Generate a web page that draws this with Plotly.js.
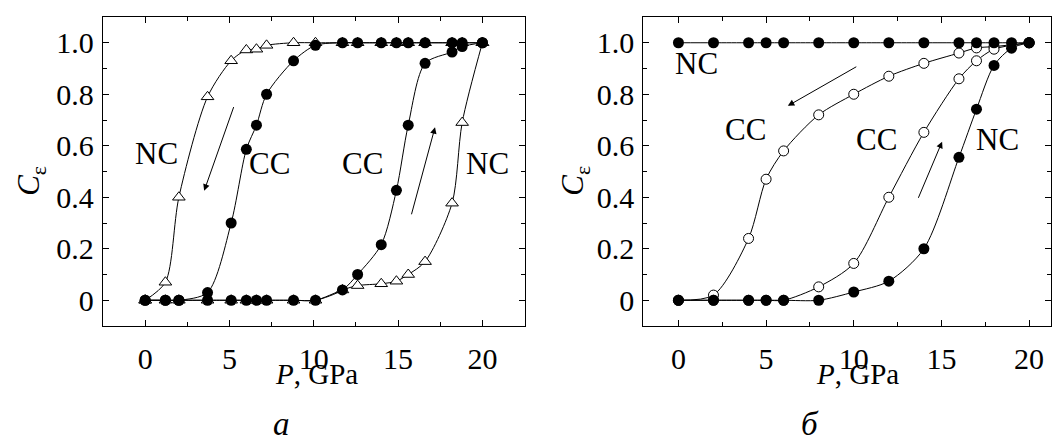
<!DOCTYPE html>
<html>
<head>
<meta charset="utf-8">
<script src="https://cdn.plot.ly/plotly-3.0.1.min.js"></script>
<style>
html, body { margin: 0; padding: 0; background: #fff; overflow: hidden; }
#chart { width: 1057px; height: 439px; }
</style>
</head>
<body>
<div id="chart"></div>
<script>
// ---------- Panel а ----------
const pressureA = [0, 1.2, 2.0, 3.7, 5.1, 6.0, 6.6, 7.2, 8.8, 10.1, 11.7, 12.6, 14.0, 14.9, 15.6, 16.6, 18.2, 18.8, 20];
const ncCompressionA   = [0, 0, 0, 0, 0, 0, 0, 0, 0, 0, 0.04, 0.057, 0.064, 0.074, 0.10, 0.15, 0.377, 0.69, 1.0];
const ncDecompressionA = [0, 0.07, 0.40, 0.79, 0.93, 0.972, 0.975, 0.99, 1.0, 1, 1, 1, 1, 1, 1, 1, 1, 1, 1];
const ccCompressionA   = [0, 0, 0, 0, 0, 0, 0, 0, 0, 0, 0.04, 0.10, 0.216, 0.427, 0.68, 0.92, 0.964, 0.985, 1.0];
const ccDecompressionA = [0, 0, 0, 0.03, 0.30, 0.586, 0.68, 0.80, 0.93, 0.99, 1, 1, 1, 1, 1, 1, 1, 1, 1];

// ---------- Panel б ----------
const pressureB = [0, 2, 4, 5, 6, 8, 10, 12, 14, 16, 17, 18, 19, 20];
const ncDecompressionB = [1, 1, 1, 1, 1, 1, 1, 1, 1, 1, 1, 1, 1, 1];
const ccDecompressionB = [0, 0.02, 0.24, 0.47, 0.58, 0.72, 0.80, 0.87, 0.92, 0.96, 0.98, 0.985, null, 1.0];
const ccCompressionB   = [0, 0, 0, 0, 0, 0.052, 0.143, 0.40, 0.652, 0.86, 0.93, 0.975, null, 1.0];
const ncCompressionB   = [0, 0, 0, 0, 0, 0, 0.032, 0.074, 0.20, 0.555, 0.742, 0.912, 0.979, 1.0];

// ---------- Ticks & labels ----------
const xTickVals = [0, 5, 10, 15, 20];
const xTickText = ['0', '5', '10', '15', '20'];
const xMinorVals = [-2.5, 2.5, 7.5, 12.5, 17.5, 22.5];
const yTickVals = [0, 0.2, 0.4, 0.6, 0.8, 1.0];
const yTickText = ['0', '0.2', '0.4', '0.6', '0.8', '1.0'];
const yMinorVals = [-0.1, 0.1, 0.3, 0.5, 0.7, 0.9, 1.1];

const xTitle = '<i>P</i>, GPa';
const yTitle = '<i>C</i><sub>ε</sub>';
const panelLabels = ['<i>а</i>', '<i>б</i>'];
const curveLabelsA = [
  {t: 'NC', x: 0.7, y: 0.57}, {t: 'CC', x: 7.4, y: 0.53},
  {t: 'CC', x: 12.9, y: 0.53}, {t: 'NC', x: 20.3, y: 0.53}
];
const curveLabelsB = [
  {t: 'NC', x: 1.05, y: 0.92}, {t: 'CC', x: 3.85, y: 0.665},
  {t: 'CC', x: 11.3, y: 0.625}, {t: 'NC', x: 18.2, y: 0.625}
];
// arrows: tail -> head (data units)
const arrowsA = [
  {tx: 5.28, ty: 0.756, hx: 3.5, hy: 0.425},
  {tx: 15.77, ty: 0.328, hx: 17.19, hy: 0.672}
];
const arrowsB = [
  {tx: 10.23, ty: 0.91, hx: 6.24, hy: 0.755},
  {tx: 13.65, ty: 0.392, hx: 15.04, hy: 0.616}
];

const FONT = '"Liberation Serif", "Times New Roman", serif';

function tri(x, y, xa, ya) {
  return {x: x, y: y, xaxis: xa, yaxis: ya, type: 'scatter', mode: 'lines+markers',
    line: {color: 'black', width: 1, shape: 'spline', smoothing: 0.8},
    marker: {symbol: 'triangle-up', size: 11, color: 'white', line: {color: 'black', width: 1}},
    connectgaps: true, hoverinfo: 'skip'};
}
function dot(x, y, xa, ya, size) {
  return {x: x, y: y, xaxis: xa, yaxis: ya, type: 'scatter', mode: 'lines+markers',
    line: {color: 'black', width: 1, shape: 'spline', smoothing: 0.8},
    marker: {symbol: 'circle', size: size, color: 'black', line: {color: 'black', width: 0}},
    connectgaps: true, hoverinfo: 'skip'};
}
function ring(x, y, xa, ya) {
  return {x: x, y: y, xaxis: xa, yaxis: ya, type: 'scatter', mode: 'lines+markers',
    line: {color: 'black', width: 1, shape: 'spline', smoothing: 0.8},
    marker: {symbol: 'circle', size: 10, color: 'white', line: {color: 'black', width: 1}},
    connectgaps: true, hoverinfo: 'skip'};
}

const data = [
  tri(pressureA, ncCompressionA, 'x', 'y'),
  tri(pressureA, ncDecompressionA, 'x', 'y'),
  dot(pressureA, ccCompressionA, 'x', 'y', 11),
  dot(pressureA, ccDecompressionA, 'x', 'y', 11),
  ring(pressureB, ccDecompressionB, 'x2', 'y2'),
  ring(pressureB, ccCompressionB, 'x2', 'y2'),
  dot(pressureB, ncCompressionB, 'x2', 'y2', 11),
  dot(pressureB, ncDecompressionB, 'x2', 'y2', 11)
];

function xAxis(domain, range, anchor) {
  return {
    domain: domain, range: range, anchor: anchor,
    tickmode: 'array', tickvals: xTickVals, ticktext: xTickText,
    ticks: 'inside', ticklen: 6, tickwidth: 1, tickcolor: 'black',
    minor: {tickmode: 'array', tickvals: xMinorVals, ticks: 'inside', ticklen: 4, tickwidth: 1, tickcolor: 'black'},
    showline: true, linecolor: 'black', linewidth: 1.2, mirror: 'ticks',
    showgrid: false, zeroline: false,
    tickfont: {family: FONT, size: 30, color: 'black'},
    ticklabelstandoff: 6
  };
}
function yAxis(anchor) {
  return {
    domain: [0, 1], range: [-0.1, 1.1], anchor: anchor,
    tickmode: 'array', tickvals: yTickVals, ticktext: yTickText,
    ticks: 'inside', ticklen: 6, tickwidth: 1, tickcolor: 'black',
    minor: {tickmode: 'array', tickvals: yMinorVals, ticks: 'inside', ticklen: 4, tickwidth: 1, tickcolor: 'black'},
    showline: true, linecolor: 'black', linewidth: 1.2, mirror: 'ticks',
    showgrid: false, zeroline: false,
    tickfont: {family: FONT, size: 30, color: 'black'},
    ticklabelstandoff: 2
  };
}

const annotations = [];
function addLabels(list, xref, yref) {
  list.forEach(function (l) {
    annotations.push({x: l.x, y: l.y, xref: xref, yref: yref, text: l.t, showarrow: false,
      xanchor: 'center', yanchor: 'middle',
      font: {family: FONT, size: 31, color: 'black'}});
  });
}
function addArrows(list, xref, yref) {
  list.forEach(function (a) {
    annotations.push({x: a.hx, y: a.hy, ax: a.tx, ay: a.ty, xref: xref, yref: yref,
      axref: xref, ayref: yref, text: '', showarrow: true, arrowhead: 2, arrowsize: 1.3,
      arrowwidth: 1, arrowcolor: 'black', standoff: 0, startstandoff: 0});
  });
}
addLabels(curveLabelsA, 'x', 'y');
addLabels(curveLabelsB, 'x2', 'y2');
addArrows(arrowsA, 'x', 'y');
addArrows(arrowsB, 'x2', 'y2');

// x-axis titles (paper annotations for exact position)
[0.2257, 0.7964].forEach(function (px) {
  annotations.push({x: px, y: -0.155, xref: 'paper', yref: 'paper', text: xTitle,
    showarrow: false, xanchor: 'center', yanchor: 'middle',
    font: {family: FONT, size: 29, color: 'black'}});
});
// y-axis titles (rotated)
[-0.0759, 0.4979].forEach(function (px) {
  annotations.push({x: px, y: 0.47, xref: 'paper', yref: 'paper', text: yTitle,
    textangle: -90, showarrow: false, xanchor: 'center', yanchor: 'middle',
    font: {family: FONT, size: 31, color: 'black'}});
});
// panel letters
[[0.1888, panelLabels[0]], [0.7453, panelLabels[1]]].forEach(function (p) {
  annotations.push({x: p[0], y: -0.318, xref: 'paper', yref: 'paper', text: p[1],
    showarrow: false, xanchor: 'center', yanchor: 'middle',
    font: {family: FONT, size: 33, color: 'black'}});
});

const layout = {
  width: 1057, height: 439,
  margin: {l: 103, r: 6, t: 17, b: 112.5, pad: 0},
  paper_bgcolor: 'white', plot_bgcolor: 'white',
  showlegend: false,
  font: {family: FONT, size: 28, color: 'black'},
  xaxis: xAxis([0, 0.4447], [-2.5, 22.5], 'y'),
  yaxis: yAxis('x'),
  xaxis2: xAxis([0.570, 1], [-2, 21.25], 'y2'),
  yaxis2: yAxis('x2'),
  annotations: annotations
};

Plotly.newPlot('chart', data, layout, {staticPlot: true, displayModeBar: false});
</script>
</body>
</html>
